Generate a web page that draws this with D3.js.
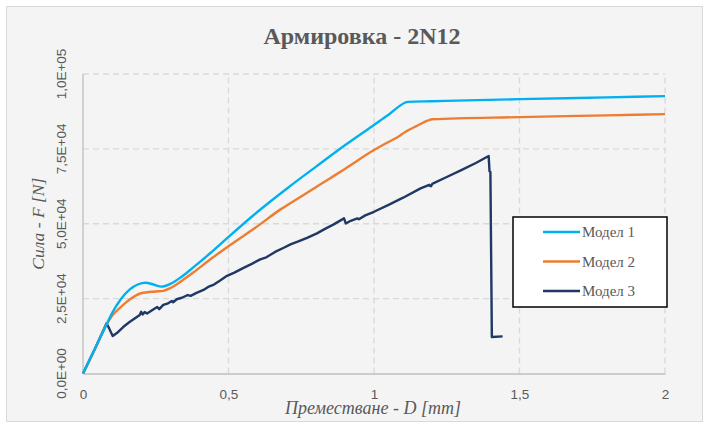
<!DOCTYPE html>
<html>
<head>
<meta charset="utf-8">
<script src="https://cdn.jsdelivr.net/npm/d3@7"></script>
<style>
  body { margin: 0; background: #fff; }
  svg text { fill: #595959; }
</style>
</head>
<body>
<div id="viz"></div>
<script>
// data
var xTicks = [0, 0.5, 1, 1.5, 2],
    xTickLabels = ['0', '0,5', '1', '1,5', '2'],
    yTicks = [0, 25000, 50000, 75000, 100000],
    yTickLabels = ['0,0E+00', '2,5E+04', '5,0E+04', '7,5E+04', '1,0E+05'];

var seriesNames = ['Модел 1', 'Модел 2', 'Модел 3'];

var m1x = [0, 0.04, 0.083, 0.1, 0.13, 0.16, 0.19, 0.215, 0.24, 0.27, 0.3, 0.34, 0.38, 0.44, 0.5, 0.6, 0.7, 0.8, 0.9, 1.0, 1.05, 1.117, 1.2, 1.5, 1.8, 2.0];
var m1y = [0, 8100, 16800, 20200, 24800, 28000, 29800, 30300, 29800, 29000, 29900, 32400, 35500, 40400, 45600, 54000, 61700, 69000, 76200, 83000, 86400, 90700, 90900, 91600, 92200, 92600];

var m2x = [0, 0.04, 0.083, 0.1, 0.127, 0.15, 0.2, 0.25, 0.276, 0.3, 0.34, 0.38, 0.44, 0.5, 0.6, 0.679, 0.7, 0.8, 0.851, 0.9, 1.0, 1.05, 1.081, 1.11, 1.15, 1.184, 1.2, 1.5, 1.8, 2.0];
var m2y = [0, 8000, 16700, 19300, 21900, 23900, 26800, 27400, 27600, 28500, 31000, 33800, 38300, 42500, 49200, 54800, 56100, 62200, 65300, 68300, 74600, 77300, 78900, 80800, 82800, 84400, 84900, 85600, 86200, 86600];

var m3x = [0, 0.04, 0.081, 0.09, 0.102, 0.12, 0.139, 0.16, 0.18, 0.195, 0.2, 0.205, 0.212, 0.22, 0.24, 0.255, 0.262, 0.276, 0.29, 0.305, 0.31, 0.322, 0.34, 0.36, 0.37, 0.39, 0.414, 0.43, 0.45, 0.47, 0.495, 0.52, 0.55, 0.58, 0.609, 0.63, 0.66, 0.69, 0.713, 0.74, 0.77, 0.804, 0.83, 0.86, 0.897, 0.903, 0.92, 0.943, 0.948, 0.97, 1.0, 1.05, 1.1, 1.16, 1.19, 1.196, 1.2, 1.25, 1.3, 1.35, 1.394, 1.397, 1.4, 1.405, 1.442];
var m3y = [0, 8000, 16800, 15000, 12500, 13800, 15600, 17200, 18500, 19500, 20600, 19700, 20500, 20000, 21300, 22200, 21500, 22900, 23300, 24200, 23800, 24800, 25300, 26200, 25900, 26900, 27900, 28900, 29700, 31000, 32600, 33700, 35200, 36600, 38100, 38800, 40600, 42000, 43100, 44100, 45300, 46800, 48200, 49700, 51800, 50100, 51000, 51800, 51500, 52800, 54000, 56300, 58700, 61800, 63000, 62500, 63300, 65600, 67900, 70300, 72600, 67500, 67300, 12200, 12400];

var colors = ['#00b0f0', '#ed7d31', '#203864'];

var W = 709, H = 428;

var svg = d3.select('#viz').append('svg')
  .attr('width', W)
  .attr('height', H);

// chart background
svg.append('rect')
  .attr('x', 6.5).attr('y', 6.5)
  .attr('width', 696).attr('height', 415)
  .attr('fill', '#f4f4f4')
  .attr('stroke', '#d9d9d9')
  .attr('stroke-width', 1);

var x = d3.scaleLinear().domain([0, 2]).range([83, 665]);
var y = d3.scaleLinear().domain([0, 100000]).range([373.5, 74]);

// grid
svg.append('g').selectAll('line').data(yTicks.slice(1)).join('line')
  .attr('x1', x(0)).attr('x2', x(2))
  .attr('y1', d => y(d)).attr('y2', d => y(d))
  .attr('stroke', '#d9d9d9').attr('stroke-width', 1.3)
  .attr('stroke-dasharray', '6,4');

svg.append('g').selectAll('line').data(xTicks.slice(1)).join('line')
  .attr('x1', d => x(d)).attr('x2', d => x(d))
  .attr('y1', y(0)).attr('y2', y(100000))
  .attr('stroke', '#d9d9d9').attr('stroke-width', 1.3)
  .attr('stroke-dasharray', '6,4');

// axis lines
var xAxis = d3.axisBottom(x).tickValues(xTicks).tickSize(0)
  .tickFormat((d, i) => xTickLabels[i]);
var gx = svg.append('g')
  .attr('transform', 'translate(0,' + y(0) + ')')
  .call(xAxis);
gx.select('.domain').attr('stroke', '#bfbfbf').attr('stroke-width', 1.3);
gx.selectAll('text')
  .attr('dy', null).attr('y', 25)
  .style('font-family', 'Liberation Sans, Arial, sans-serif')
  .style('font-size', '13.5px')
  .style('fill', '#595959');

svg.append('line')
  .attr('x1', x(0)).attr('x2', x(0))
  .attr('y1', y(0)).attr('y2', y(100000))
  .attr('stroke', '#bfbfbf').attr('stroke-width', 1.3);

// rotated y tick labels
svg.append('g').selectAll('text').data(yTicks).join('text')
  .attr('transform', d => 'translate(66,' + y(d) + ') rotate(-90)')
  .attr('text-anchor', 'middle')
  .style('font-family', 'Liberation Sans, Arial, sans-serif')
  .style('font-size', '13.5px')
  .text((d, i) => yTickLabels[i]);

// series
var line = d3.line().x(d => x(d[0])).y(d => y(d[1]));
var series = [
  { name: seriesNames[0], pts: d3.zip(m1x, m1y), curve: d3.curveMonotoneX },
  { name: seriesNames[1], pts: d3.zip(m2x, m2y), curve: d3.curveMonotoneX },
  { name: seriesNames[2], pts: d3.zip(m3x, m3y), curve: d3.curveLinear }
];

series.slice().reverse().forEach(function(s) {
  var i = seriesNames.indexOf(s.name);
  svg.append('path')
    .attr('d', line.curve(s.curve)(s.pts))
    .attr('fill', 'none')
    .attr('stroke', colors[i])
    .attr('stroke-width', 2.4)
    .attr('stroke-linejoin', 'round');
});

// title
svg.append('text')
  .attr('x', 362).attr('y', 44)
  .attr('text-anchor', 'middle')
  .style('font-family', 'Liberation Serif, Times New Roman, serif')
  .style('font-weight', 'bold')
  .style('font-size', '24px')
  .text('Армировка - 2N12');

// axis titles
svg.append('text')
  .attr('x', 373).attr('y', 414)
  .attr('text-anchor', 'middle')
  .style('font-family', 'Liberation Serif, Times New Roman, serif')
  .style('font-style', 'italic')
  .style('font-size', '18px')
  .text('Преместване - D [mm]');

svg.append('text')
  .attr('transform', 'translate(44,' + y(50000) + ') rotate(-90)')
  .attr('text-anchor', 'middle')
  .style('font-family', 'Liberation Serif, Times New Roman, serif')
  .style('font-style', 'italic')
  .style('font-size', '17.5px')
  .text('Сила - F [N]');

// legend
var legend = svg.append('g').attr('transform', 'translate(513,217)');
legend.append('rect')
  .attr('width', 154).attr('height', 90)
  .attr('fill', '#fff')
  .attr('stroke', '#000').attr('stroke-width', 1.5);
var items = legend.selectAll('g').data(seriesNames).join('g')
  .attr('transform', (d, i) => 'translate(0,' + (15 + i * 29.5) + ')');
items.append('line')
  .attr('x1', 30).attr('x2', 67)
  .attr('stroke', (d, i) => colors[i])
  .attr('stroke-width', 2.6);
items.append('text')
  .attr('x', 69).attr('y', 5)
  .style('font-family', 'Liberation Serif, Times New Roman, serif')
  .style('font-size', '15px')
  .text(d => d);
</script>
</body>
</html>
